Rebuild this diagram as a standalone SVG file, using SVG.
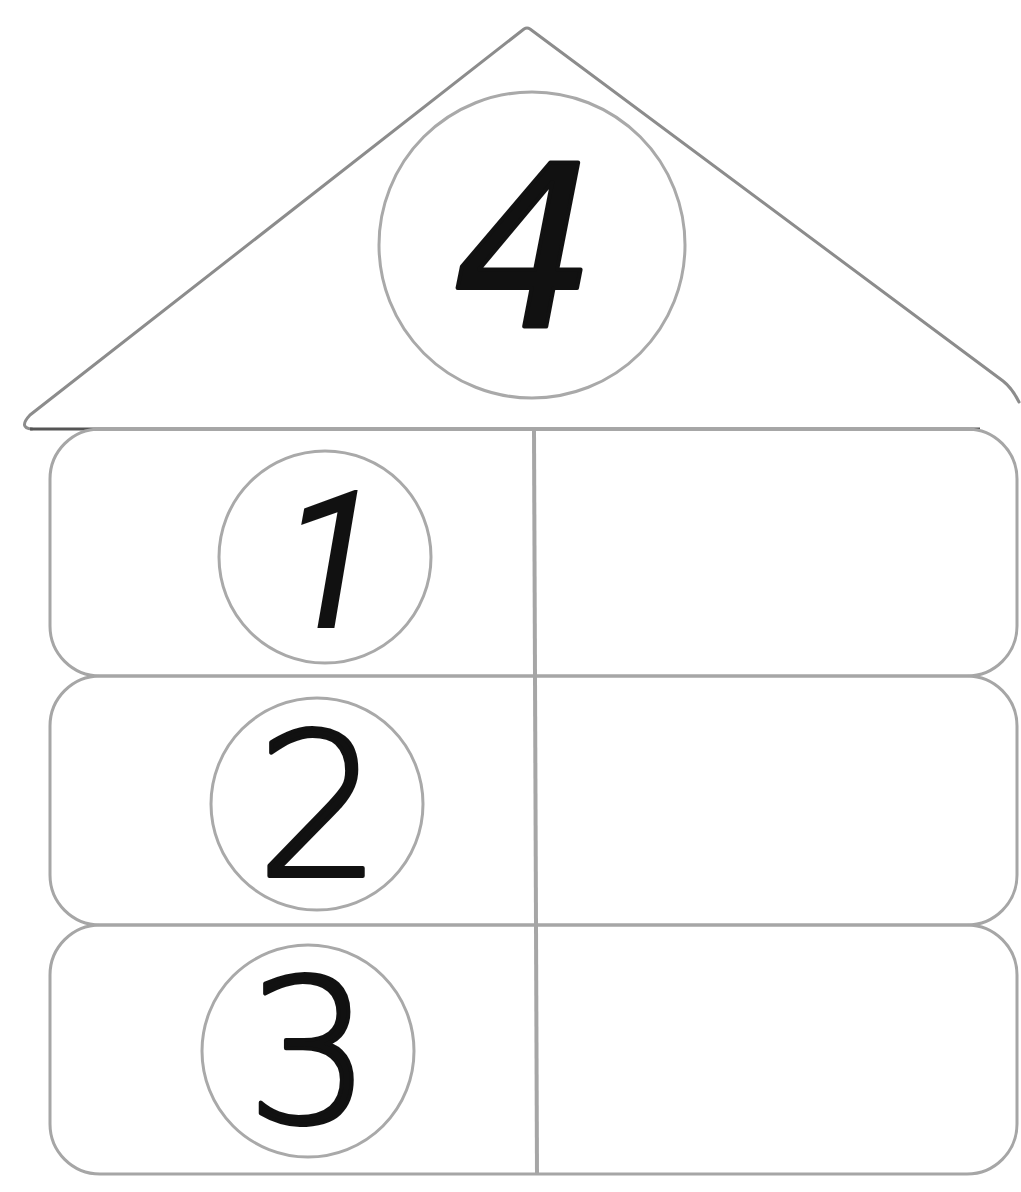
<svg xmlns="http://www.w3.org/2000/svg" width="1021" height="1192" viewBox="0 0 1021 1192">
  <style>
    .row { fill: none; stroke: #a6a6a6; stroke-width: 3; }
    .ring { fill: #ffffff; stroke: #a9a9a9; stroke-width: 3; }
    .roof { fill: none; stroke: #8c8c8c; stroke-width: 3; stroke-linejoin: round; stroke-linecap: round; }
    .digit { font-family: "DejaVu Sans", "Liberation Sans", sans-serif; font-weight: 200; fill: #111111; stroke: #111111; stroke-width: 4; stroke-linejoin: round; text-anchor: middle; }
    .slant { font-style: italic; }
  </style>
  <rect x="0" y="0" width="1021" height="1192" fill="#ffffff"/>
  <g id="roof">
    <path class="roof" d="M 1019 402 Q 1012 388 1003 381 L 530 29 Q 527 27 524 29 L 30 415 Q 18 428 32 429"/>
    <line x1="30" y1="429" x2="980" y2="429" stroke="#555555" stroke-width="3"/>
    <g id="node-4">
      <circle class="ring" cx="532" cy="245" r="153"/>
      <text class="digit slant" x="525" y="327" font-size="225">4</text>
    </g>
  </g>
  <g id="rows">
    <rect id="row-1" class="row" x="50" y="429" width="967" height="247" rx="50" ry="50"/>
    <rect id="row-2" class="row" x="50" y="676" width="967" height="249" rx="50" ry="50"/>
    <rect id="row-3" class="row" x="50" y="925" width="967" height="249" rx="50" ry="50"/>
  </g>
  <g id="connectors">
    <line x1="534" y1="429" x2="537" y2="1174" stroke="#a6a6a6" stroke-width="4"/>
  </g>
  <g id="node-1">
    <circle class="ring" cx="325" cy="557" r="106"/>
    <text x="330" y="628" font-size="192" style="font-family: Roboto, 'Open Sans', sans-serif; font-style: italic; font-weight: 400; fill: #111111; text-anchor: middle;">1</text>
  </g>
  <g id="node-2">
    <circle class="ring" cx="317" cy="804" r="106"/>
    <text class="digit" x="319" y="876" font-size="200">2</text>
  </g>
  <g id="node-3">
    <circle class="ring" cx="308" cy="1051" r="106"/>
    <text class="digit" x="309" y="1122" font-size="200">3</text>
  </g>
</svg>
